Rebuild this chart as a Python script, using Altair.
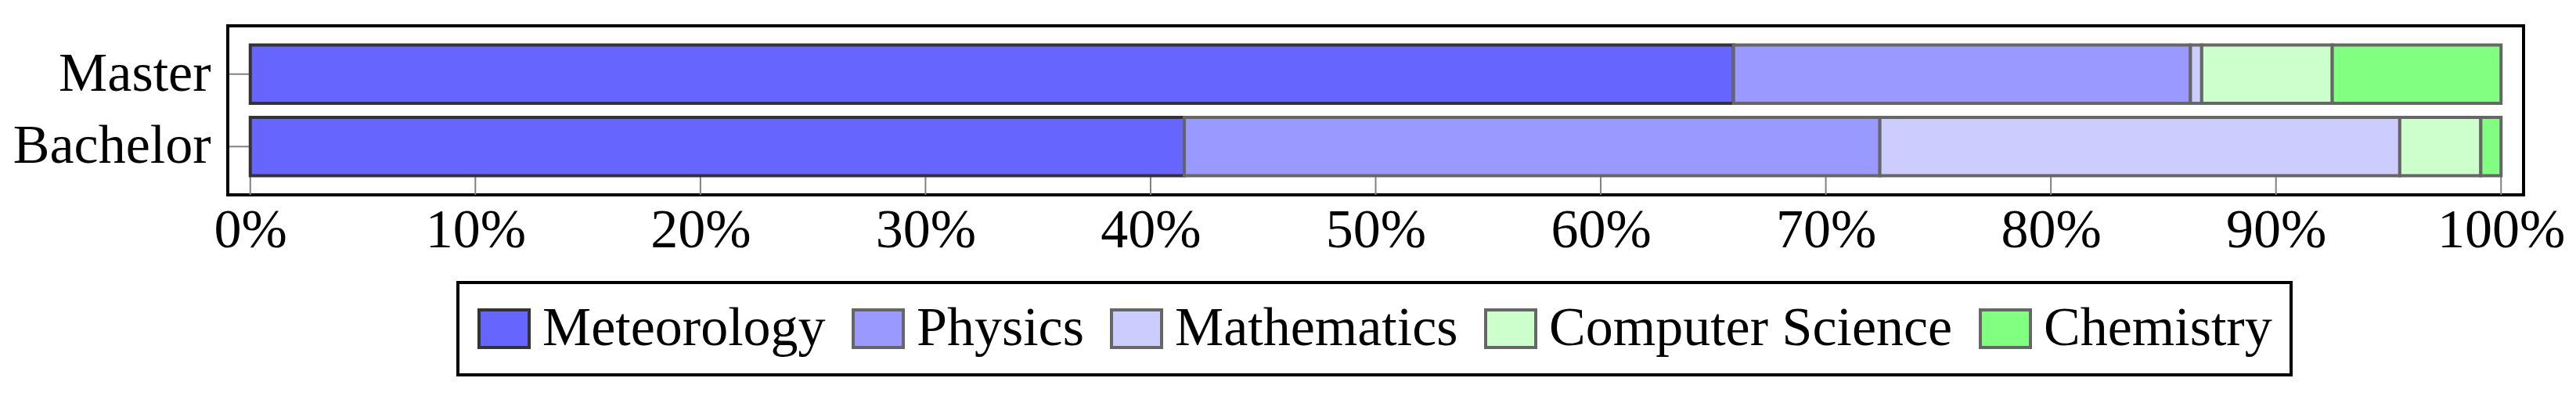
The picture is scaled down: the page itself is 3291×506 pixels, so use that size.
import altair as alt
import pandas as pd

degrees = ["Master", "Bachelor"]
subjects = ["Meteorology", "Physics", "Mathematics", "Computer Science", "Chemistry"]
master_pct = [65.9, 20.3, 0.5, 5.8, 7.5]
bachelor_pct = [41.5, 30.9, 23.1, 3.6, 0.9]
fills = ["#6666FF", "#9999FF", "#CCCCFF", "#CCFFCC", "#80FF80"]
strokes = ["#333333", "#666666", "#666666", "#666666", "#666666"]
tick_values = [0, 10, 20, 30, 40, 50, 60, 70, 80, 90, 100]

rows = []
for deg, vals in zip(degrees, [master_pct, bachelor_pct]):
    start = 0.0
    for i, (s, v) in enumerate(zip(subjects, vals)):
        rows.append({"degree": deg, "subject": s, "idx": i, "value": v,
                     "start": start, "end": start + v})
        start += v
bars_df = pd.DataFrame(rows).sort_values("idx", ascending=False)  # Meteorology drawn last
ticks_df = pd.DataFrame({"t": tick_values})
ytick_df = pd.DataFrame({"degree": degrees})

FONT = "Liberation Serif"
W, H = 2933, 216

xscale = alt.Scale(domain=[-1.0, 101.0], nice=False, zero=False)
yscale = alt.Scale(domain=degrees, paddingInner=0.1935, paddingOuter=0.2634)
xaxis = alt.Axis(values=tick_values, labelExpr="datum.value + '%'", title=None,
                 ticks=False, domain=False, grid=False, labelFontSize=70,
                 labelFont=FONT, labelColor="black", labelPadding=11,
                 labelFlush=False, labelOverlap=False, labelLimit=1000)
yaxis = alt.Axis(title=None, ticks=False, domain=False, grid=False,
                 labelFontSize=70, labelFont=FONT, labelColor="black",
                 labelPadding=22, labelLimit=1000)

xtick_layer = alt.Chart(ticks_df).mark_rule(color="#808080", strokeWidth=2).encode(
    x=alt.X("t:Q", scale=xscale, axis=xaxis),
    y=alt.value(H),
    y2=alt.value(H - 25),
)

ytick_layer = alt.Chart(ytick_df).mark_rule(color="#808080", strokeWidth=2).encode(
    y=alt.Y("degree:N", scale=yscale, axis=yaxis, sort=degrees, bandPosition=0.5),
    x=alt.value(2),
    x2=alt.value(28),
)

bar_layer = alt.Chart(bars_df).mark_bar(strokeWidth=4, opacity=1).encode(
    x=alt.X("start:Q", scale=xscale, axis=xaxis),
    x2="end:Q",
    y=alt.Y("degree:N", scale=yscale, axis=yaxis, sort=degrees),
    fill=alt.Fill("subject:N", scale=alt.Scale(domain=subjects, range=fills),
                  legend=alt.Legend(title=None, orient="none", direction="horizontal",
                                    legendX=294, legendY=328, padding=24,
                                    labelFontSize=70, labelFont=FONT,
                                    labelColor="black", labelOffset=14,
                                    labelLimit=1000,
                                    columnPadding=27,
                                    symbolType="M-1,-0.75H1V0.75H-1Z",
                                    symbolSize=4096, symbolStrokeWidth=4,
                                    symbolOpacity=1,
                                    fillColor="white", strokeColor="black")),
    stroke=alt.Stroke("subject:N", scale=alt.Scale(domain=subjects, range=strokes)),
    order=alt.Order("idx:Q"),
)

chart = alt.layer(xtick_layer, ytick_layer, bar_layer).properties(
    width=W, height=H,
    background="white",
    autosize=alt.AutoSizeParams(type="none"),
    padding={"left": 283, "top": 25, "right": 55, "bottom": 235},
).configure_view(
    stroke="black", strokeWidth=4
).configure_legend(
    strokeWidth=4
)

chart.save("out.html", embed_options={"renderer": "svg", "actions": False})
